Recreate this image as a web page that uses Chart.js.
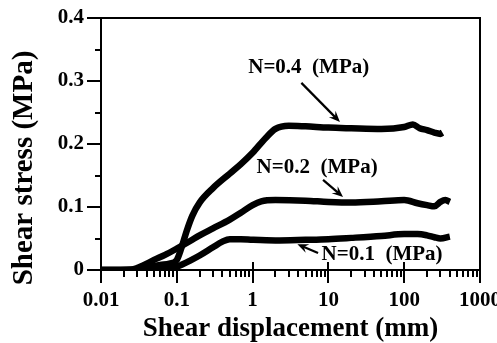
<!DOCTYPE html>
<html>
<head>
<meta charset="utf-8">
<script src="https://cdn.jsdelivr.net/npm/chart.js@4"></script>
<style>
  html, body { margin: 0; padding: 0; background: #fff; }
  #wrap { width: 497px; height: 343px; }
</style>
</head>
<body>
<div id="wrap"><canvas id="shearChart"></canvas></div>
<script>
// Shear displacement (mm) and shear stress (MPa)
const dispN04 = [0.01, 0.03, 0.045, 0.06, 0.08, 0.1, 0.115, 0.135, 0.16, 0.2, 0.3, 0.5, 0.7, 1, 1.5, 2, 3, 5, 10, 20, 50, 100, 130, 160, 200, 250, 300, 320];
const stressN04 = [0, 0, 0.005, 0.008, 0.01, 0.016, 0.035, 0.062, 0.086, 0.107, 0.13, 0.153, 0.168, 0.186, 0.21, 0.224, 0.229, 0.228, 0.226, 0.225, 0.224, 0.227, 0.231, 0.225, 0.222, 0.218, 0.216, 0.218];

const dispN02 = [0.01, 0.025, 0.04, 0.05, 0.07, 0.1, 0.15, 0.2, 0.3, 0.5, 0.7, 1, 1.3, 2, 5, 10, 20, 50, 100, 150, 200, 250, 300, 350, 400];
const stressN02 = [0, 0.001, 0.01, 0.016, 0.024, 0.034, 0.046, 0.055, 0.066, 0.08, 0.091, 0.103, 0.109, 0.111, 0.11, 0.108, 0.107, 0.109, 0.111, 0.106, 0.103, 0.101, 0.108, 0.111, 0.108];

const dispN01 = [0.01, 0.05, 0.07, 0.08, 0.1, 0.15, 0.2, 0.3, 0.4, 0.5, 0.7, 1, 2, 5, 10, 20, 50, 100, 150, 200, 250, 300, 400];
const stressN01 = [0, 0, 0, 0.001, 0.005, 0.015, 0.023, 0.036, 0.045, 0.049, 0.049, 0.048, 0.047, 0.048, 0.049, 0.051, 0.054, 0.057, 0.057, 0.055, 0.052, 0.05, 0.053];

const xTickLabels = [0.01, 0.1, 1, 10, 100, 1000];
const yTickLabels = [0, 0.1, 0.2, 0.3, 0.4];

// annotation text and arrows, in data coordinates
const notes = [
  { text: 'N=0.4  (MPa)', x: 5.5, y: 0.322, from: [4.4, 0.297], to: [14.2, 0.235] },
  { text: 'N=0.2  (MPa)', x: 7.1, y: 0.162, from: [8.5, 0.143], to: [15.6, 0.116] },
  { text: 'N=0.1  (MPa)', x: 51, y: 0.024, from: [7.3, 0.027], to: [3.9, 0.041] }
];

function toPoints(xs, ys) {
  return xs.map((x, i) => ({ x: x, y: ys[i] }));
}

const serif = '"Liberation Serif", "Times New Roman", serif';

const framePlugin = {
  id: 'frame',
  afterDatasetsDraw(chart) {
    const ctx = chart.ctx;
    const area = chart.chartArea;
    const xs = chart.scales.x;
    const ys = chart.scales.y;
    ctx.save();
    ctx.strokeStyle = '#000';
    ctx.lineWidth = 2;
    ctx.strokeRect(area.left, area.top, area.right - area.left, area.bottom - area.top);

    // y ticks: major every 0.1, minor every 0.05, pointing out
    ctx.beginPath();
    for (let i = 0; i <= 8; i++) {
      const py = Math.round(ys.getPixelForValue(i * 0.05));
      const len = i % 2 === 0 ? 14 : 6;
      ctx.moveTo(area.left - len, py);
      ctx.lineTo(area.left, py);
    }
    ctx.stroke();

    // x ticks: decades cross the axis, minors hang below
    ctx.beginPath();
    for (let d = -2; d <= 2; d++) {
      for (let m = 1; m <= 9; m++) {
        const px = Math.round(xs.getPixelForValue(m * Math.pow(10, d)));
        if (m === 1) {
          ctx.moveTo(px, area.bottom - 8);
          ctx.lineTo(px, area.bottom + 13);
        } else {
          ctx.moveTo(px, area.bottom);
          ctx.lineTo(px, area.bottom + 7);
        }
      }
    }
    const pEnd = Math.round(xs.getPixelForValue(1000));
    ctx.moveTo(pEnd, area.bottom - 8);
    ctx.lineTo(pEnd, area.bottom + 13);
    ctx.stroke();

    // y axis title
    ctx.fillStyle = '#000';
    ctx.save();
    ctx.translate(25, (area.top + area.bottom) / 2 + 24);
    ctx.rotate(-Math.PI / 2);
    ctx.font = 'bold 29px ' + serif;
    ctx.textAlign = 'center';
    ctx.textBaseline = 'middle';
    ctx.fillText('Shear stress (MPa)', 0, 0);
    ctx.restore();

    // annotations
    ctx.font = 'bold 21px ' + serif;
    ctx.textAlign = 'center';
    ctx.textBaseline = 'middle';
    notes.forEach(n => {
      ctx.fillText(n.text, xs.getPixelForValue(n.x), ys.getPixelForValue(n.y));
      const x1 = xs.getPixelForValue(n.from[0]), y1 = ys.getPixelForValue(n.from[1]);
      const x2 = xs.getPixelForValue(n.to[0]), y2 = ys.getPixelForValue(n.to[1]);
      const ang = Math.atan2(y2 - y1, x2 - x1);
      ctx.lineWidth = 2.2;
      ctx.beginPath();
      ctx.moveTo(x1, y1);
      ctx.lineTo(x2 - 4 * Math.cos(ang), y2 - 4 * Math.sin(ang));
      ctx.stroke();
      ctx.beginPath();
      ctx.moveTo(x2, y2);
      ctx.lineTo(x2 - 12 * Math.cos(ang - 0.4), y2 - 12 * Math.sin(ang - 0.4));
      ctx.lineTo(x2 - 7 * Math.cos(ang), y2 - 7 * Math.sin(ang));
      ctx.lineTo(x2 - 12 * Math.cos(ang + 0.4), y2 - 12 * Math.sin(ang + 0.4));
      ctx.closePath();
      ctx.fill();
    });
    ctx.restore();
  }
};

const lineStyle = {
  borderColor: '#000',
  borderWidth: 6.5,
  pointRadius: 0,
  fill: false,
  cubicInterpolationMode: 'monotone'
};

new Chart(document.getElementById('shearChart'), {
  type: 'line',
  data: {
    datasets: [
      Object.assign({ label: 'N=0.4 (MPa)', data: toPoints(dispN04, stressN04) }, lineStyle),
      Object.assign({ label: 'N=0.2 (MPa)', data: toPoints(dispN02, stressN02) }, lineStyle),
      Object.assign({ label: 'N=0.1 (MPa)', data: toPoints(dispN01, stressN01) }, lineStyle)
    ]
  },
  options: {
    responsive: true,
    maintainAspectRatio: false,
    animation: false,
    layout: { padding: { top: 18, right: 17, left: 0, bottom: 0 } },
    plugins: {
      legend: { display: false },
      tooltip: { enabled: false }
    },
    scales: {
      x: {
        type: 'logarithmic',
        min: 0.01,
        max: 1000,
        afterBuildTicks(scale) {
          scale.ticks = xTickLabels.map(v => ({ value: v }));
        },
        afterFit(scale) {
          scale.height = 73;
          scale.paddingLeft = 0;
          scale.paddingRight = 0;
        },
        grid: { color: 'transparent', tickLength: 13 },
        border: { display: false },
        ticks: {
          autoSkip: false,
          maxRotation: 0,
          padding: 5,
          color: '#000',
          font: { family: serif, size: 21, weight: 'bold' },
          callback: v => String(v)
        },
        title: {
          display: true,
          text: 'Shear displacement (mm)',
          color: '#000',
          padding: { top: 0, bottom: 0 },
          font: { family: serif, size: 27, weight: 'bold', lineHeight: 1.0 }
        }
      },
      y: {
        min: 0,
        max: 0.4,
        afterBuildTicks(scale) {
          scale.ticks = yTickLabels.map(v => ({ value: v }));
        },
        afterFit(scale) {
          scale.width = 101;
          scale.paddingTop = 0;
          scale.paddingBottom = 0;
        },
        grid: { color: 'transparent', tickLength: 14 },
        border: { display: false },
        ticks: {
          padding: 3,
          color: '#000',
          font: { family: serif, size: 21, weight: 'bold' },
          callback: v => String(v)
        }
      }
    }
  },
  plugins: [framePlugin]
});
</script>
</body>
</html>
